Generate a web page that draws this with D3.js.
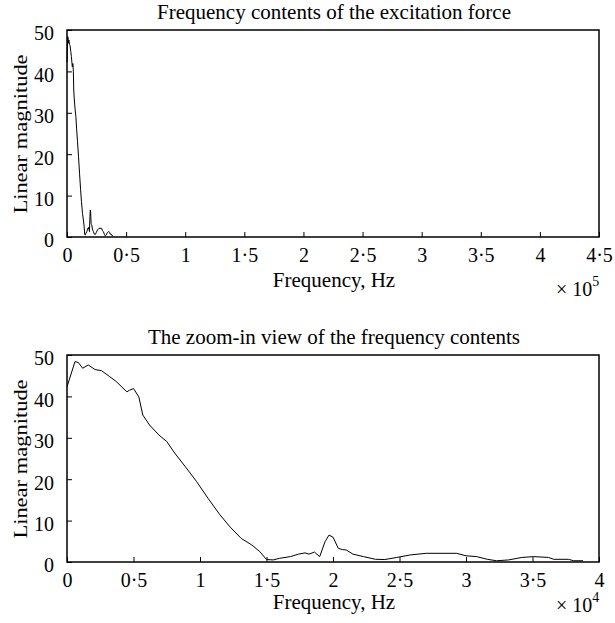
<!DOCTYPE html>
<html><head><meta charset="utf-8">
<script src="https://cdn.jsdelivr.net/npm/d3@7"></script>
<style>body{margin:0;background:#fff}svg{display:block}text{font-family:"Liberation Serif","Times New Roman",serif;fill:#000}</style>
</head><body><svg id="c" width="615" height="623"></svg>
<script>
// frequency in units of 10^4 Hz
const freq = [0,0.06,0.085,0.118,0.16,0.21,0.26,0.32,0.37,0.45,0.47,0.50,0.54,0.57,0.62,0.69,0.75,0.81,0.89,0.975,1.06,1.15,1.225,1.31,1.39,1.45,1.50,1.55,1.60,1.68,1.74,1.79,1.82,1.86,1.90,1.94,1.97,2.0,2.04,2.07,2.10,2.15,2.23,2.32,2.39,2.48,2.58,2.70,2.93,3.0,3.08,3.16,3.23,3.32,3.42,3.51,3.62,3.66,3.77,3.81,3.88];
const magnitude = [42.3,48.4,48.2,46.8,47.6,46.5,46.2,44.8,43.6,41.1,41.5,41.9,39.9,35.5,33.1,30.7,29.1,26.3,23.0,19.4,15.4,11.4,8.5,5.7,4.1,2.5,0.6,0.5,0.9,1.3,1.9,2.2,1.9,2.4,1.3,4.9,6.5,6.0,3.3,3.0,2.9,1.9,1.3,0.65,0.6,1.1,1.7,2.1,2.1,1.5,1.3,0.65,0.3,0.5,1.1,1.3,1.1,0.65,0.65,0.3,0.3];
const yTicks = [0,10,20,30,40,50];
const topXTicks = [0,0.5,1,1.5,2,2.5,3,3.5,4,4.5];
const botXTicks = [0,0.5,1,1.5,2,2.5,3,3.5,4];
const titles = ["Frequency contents of the excitation force","The zoom-in view of the frequency contents"];
const xLabel = "Frequency, Hz", yLabel = "Linear magnitude";

const svg = d3.select("#c");
const fmt = d => String(d).replace(".", "\u00B7");

function panel(top, xMax, xTicks, exp, title, scaleF, labelY, expY) {
  const x = d3.scaleLinear().domain([0, xMax]).range([67, 599]);
  const y = d3.scaleLinear().domain([0, 50]).range([top + 207, top]);
  const g = svg.append("g");
  g.append("text").attr("x", 334).attr("y", top - 11).attr("text-anchor", "middle").attr("font-size", 21).text(title);
  const xa = g.append("g").attr("transform", `translate(0,${top + 207})`)
    .call(d3.axisBottom(x).tickValues(xTicks).tickFormat(fmt).tickSizeInner(-5).tickSizeOuter(0).tickPadding(11));
  const ya = g.append("g").attr("transform", "translate(67,0)")
    .call(d3.axisLeft(y).tickValues(yTicks).tickSizeInner(-5).tickSizeOuter(0).tickPadding(13));
  [xa, ya].forEach(a => { a.select(".domain").remove(); a.selectAll("text").attr("font-size", 20).style("font-family", "Liberation Serif"); a.selectAll("line").attr("stroke", "#000"); });
  ya.selectAll("text").attr("y", 3).attr("dy", "0.34em");
  g.append("rect").attr("x", 67).attr("y", top).attr("width", 532).attr("height", 207)
    .attr("fill", "none").attr("stroke", "#000").attr("stroke-width", 1.5);
  const line = d3.line().x((d, i) => x(freq[i] * scaleF)).y(d => y(d));
  g.append("path").datum(magnitude).attr("d", line).attr("fill", "none").attr("stroke", "#000").attr("stroke-width", 1);
  g.append("text").attr("x", 334).attr("y", labelY).attr("text-anchor", "middle").attr("font-size", 21).text(xLabel);
  g.append("text").attr("transform", `translate(27,${top + 104}) rotate(-90) scale(1.25,1)`).attr("text-anchor", "middle").attr("font-size", 18).text(yLabel);
  const e = g.append("text").attr("x", 556).attr("y", expY).attr("font-size", 20);
  e.append("tspan").text("\u00D7 10");
  e.append("tspan").attr("dy", -10.5).attr("font-size", 14).text(exp);
}
panel(30, 4.5, topXTicks, "5", titles[0], 0.1, 287, 296);
panel(355, 4, botXTicks, "4", titles[1], 1, 609, 612);
</script></body></html>
